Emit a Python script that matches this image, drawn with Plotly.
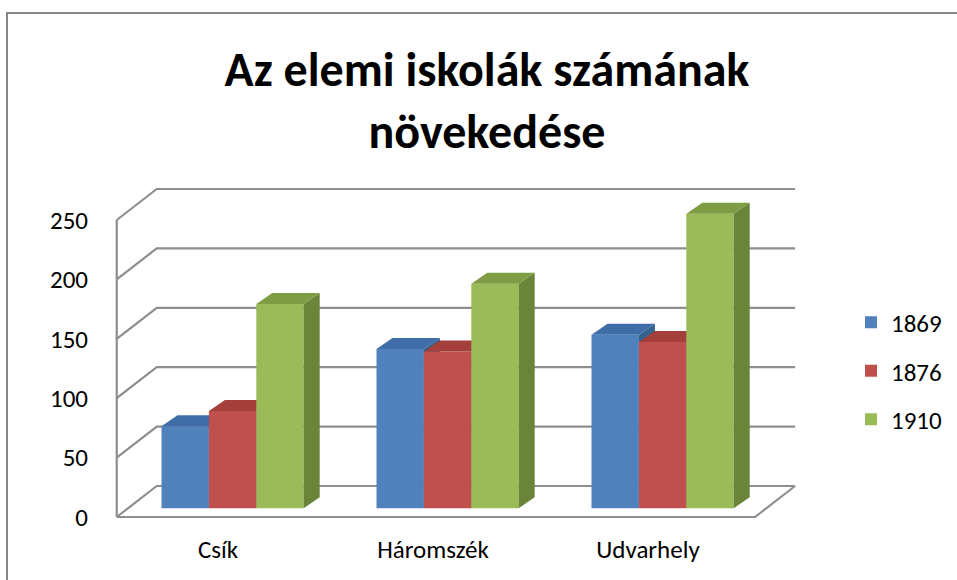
import plotly.graph_objects as go

# ---------------- data ----------------
categories = ["Csík", "Háromszék", "Udvarhely"]
years = ["1869", "1876", "1910"]
values_1869 = [69, 134, 146]
values_1876 = [82, 132, 140]
values_1910 = [172, 189, 248]
y_ticks = [0, 50, 100, 150, 200, 250]

series = [values_1869, values_1876, values_1910]
front_colors = ["#4f81bd", "#c0504d", "#9bbb59"]
top_colors = ["#3f6da8", "#a53f3c", "#7e9c44"]
side_colors = ["#37618f", "#8f3835", "#6a843a"]

FONT = "Carlito, Calibri, Lato, sans-serif"
GRID = "#8e8e8e"

# ------------- pseudo-3D projection constants (pixels -> data units) -------------
PX_X = 215.0      # pixels per category
PX_Y = 1.188      # pixels per value unit
WALL_DX = 40 / PX_X
WALL_DY = 31 / PX_Y
BAR_DX = 16 / PX_X
BAR_DY = 11 / PX_Y
BAR_BASE = 8.7 / PX_Y
BAR_W = 47.4 / PX_X
GROUP_SHIFT = 14.6 / PX_X
FRONT_L = -0.471
FRONT_R = 2.498
BACK_R = FRONT_R + WALL_DX

W, H = 957, 580
ML, MR, MT, MB = 100, 147, 180, 50
PW, PH = W - ML - MR, H - MT - MB
CAT0_PX = 218
x_range = [(ML - CAT0_PX) / PX_X, (W - MR - CAT0_PX) / PX_X]
ZERO_PX = 517
y_range = [(ZERO_PX - (H - MB)) / PX_Y, (ZERO_PX - MT) / PX_Y]


def px_to_paper_x(px):
    return (px - ML) / PW


def px_to_paper_y(py):
    return (H - MB - py) / PH


fig = go.Figure()

# ---------------- walls / gridlines ----------------
wx, wy = [], []
for t in y_ticks:
    wx += [FRONT_L, FRONT_L + WALL_DX, BACK_R, None]
    wy += [t, t + WALL_DY, t + WALL_DY, None]
wx += [FRONT_L, FRONT_L, None]
wy += [y_ticks[0], y_ticks[-1], None]
wx += [FRONT_L, FRONT_R, BACK_R]
wy += [0, 0, WALL_DY]
fig.add_trace(go.Scatter(x=wx, y=wy, mode="lines", line=dict(color=GRID, width=2.2),
                         hoverinfo="skip", showlegend=False, xaxis="x", yaxis="y"))

# ---------------- bars (one overlay axis per series) ----------------
for i, (yr, vals) in enumerate(zip(years, series)):
    ax = str(i + 2)
    xs = [c + GROUP_SHIFT + (i - 1) * BAR_W for c in range(len(categories))]
    fig.add_trace(go.Bar(x=xs, y=vals, base=BAR_BASE, width=BAR_W, name=yr,
                         marker=dict(color=front_colors[i], line=dict(width=0)),
                         xaxis="x" + ax, yaxis="y" + ax, legendgroup=yr))
    tx, ty, sx, sy = [], [], [], []
    for xc, v in zip(xs, vals):
        xl, xr = xc - BAR_W / 2, xc + BAR_W / 2
        top = BAR_BASE + v
        tx += [xl, xr, xr + BAR_DX, xl + BAR_DX, xl, None]
        ty += [top, top, top + BAR_DY, top + BAR_DY, top, None]
        sx += [xr, xr + BAR_DX, xr + BAR_DX, xr, xr, None]
        sy += [BAR_BASE, BAR_BASE + BAR_DY, top + BAR_DY, top, BAR_BASE, None]
    fig.add_trace(go.Scatter(x=sx, y=sy, mode="lines", fill="toself", fillcolor=side_colors[i],
                             line=dict(width=0, color=side_colors[i]), hoverinfo="skip",
                             showlegend=False, xaxis="x" + ax, yaxis="y" + ax))
    fig.add_trace(go.Scatter(x=tx, y=ty, mode="lines", fill="toself", fillcolor=top_colors[i],
                             line=dict(width=0, color=top_colors[i]), hoverinfo="skip",
                             showlegend=False, xaxis="x" + ax, yaxis="y" + ax))

hidden_x = dict(range=x_range, visible=False, overlaying="x", fixedrange=True)
hidden_y = dict(range=y_range, visible=False, overlaying="y", fixedrange=True)

border_path = "M {xa},{yb} L {xa},{yt} L {xb},{yt}".format(
    xa=px_to_paper_x(7), yt=px_to_paper_y(13), xb=px_to_paper_x(W + 20), yb=px_to_paper_y(H + 20))

fig.update_layout(
    width=W, height=H,
    margin=dict(l=ML, r=MR, t=MT, b=MB, autoexpand=False),
    paper_bgcolor="white", plot_bgcolor="white",
    font=dict(family=FONT, color="#000000"),
    title=dict(text="<b>Az elemi iskolák számának<br>növekedése</b>",
               font=dict(family=FONT, size=48, color="#000000"),
               x=487 / W, xanchor="center", xref="container",
               y=1 - 86 / H, yanchor="middle", yref="container"),
    xaxis=dict(range=x_range, tickvals=list(range(len(categories))), ticktext=categories,
               showgrid=False, zeroline=False, showline=False, ticks="",
               tickfont=dict(size=25), ticklabelstandoff=2, fixedrange=True),
    yaxis=dict(range=y_range, tickvals=y_ticks, showgrid=False, zeroline=False,
               showline=False, ticks="", tickfont=dict(size=25), ticklabelstandoff=11,
               fixedrange=True),
    xaxis2=hidden_x, yaxis2=hidden_y,
    xaxis3=hidden_x, yaxis3=hidden_y,
    xaxis4=hidden_x, yaxis4=hidden_y,
    showlegend=True,
    legend=dict(x=px_to_paper_x(851), xanchor="left", y=px_to_paper_y(371),
                yanchor="middle", font=dict(size=25), tracegroupgap=13,
                bgcolor="rgba(0,0,0,0)", itemclick=False, itemdoubleclick=False),
    shapes=[dict(type="path", xref="paper", yref="paper", path=border_path,
                 line=dict(color="#878787", width=2), layer="above")],
)

fig.write_html("out.html", config={"displayModeBar": False},
               post_script="document.body.style.margin='0px';")
